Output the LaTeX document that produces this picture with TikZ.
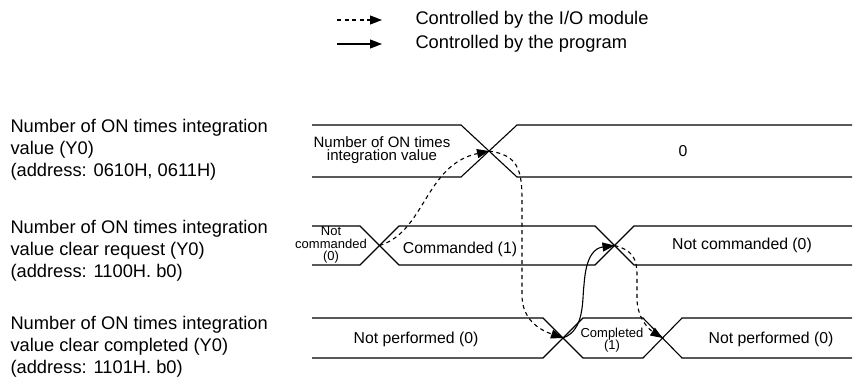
\documentclass[tikz,border=0pt]{standalone}
\usepackage{fontspec}
\setmainfont{Liberation Sans}
\usetikzlibrary{arrows.meta}

\begin{document}
\begin{tikzpicture}[x=1pt, y=-1pt,
  sig/.style={line width=1.1pt},
  ctl/.style={line width=1.1pt, -{Triangle[length=12pt,width=9pt]}},
  io/.style={ctl, dash pattern=on 4pt off 3.5pt},
  lbl/.style={anchor=west, align=left, font=\fontsize{18.3}{22}\selectfont},
  val/.style={font=\fontsize{15.8}{18}\selectfont},
  small/.style={align=center, inner sep=1pt, font=\fontsize{13}{12.5}\selectfont}]

  \useasboundingbox (0,0) rectangle (855,378);

  % legend
  \coordinate (ioA) at (337,20);  \coordinate (ioB) at (382,20);
  \coordinate (prA) at (337,44);  \coordinate (prB) at (382,44);
  \draw[io] (ioA) -- (ioB);
  \draw[ctl] (prA) -- (prB);
  \node[lbl] (ioText) at (412,20) {Controlled by the I/O module};
  \node[lbl] (prText) at (412,44) {Controlled by the program};

  % signal names
  \node[lbl] (nameA) at (7,150) {Number of ON times integration\\value (Y0)\\(address: 0610H, 0611H)};
  \node[lbl] (nameB) at (7,251) {Number of ON times integration\\value clear request (Y0)\\(address: 1100H. b0)};
  \node[lbl] (nameC) at (7,347) {Number of ON times integration\\value clear completed (Y0)\\(address: 1101H. b0)};

  % row 1: integration value
  \draw[sig] (312,125) -- (461,125) -- (517,177) -- (852,177);
  \draw[sig] (312,177) -- (461,177) -- (517,125) -- (852,125);
  \coordinate (xA) at (489,151);
  \node[small, font=\fontsize{15}{13.5}\selectfont] (valOld) at (382,150) {Number of ON times\\integration value};
  \node[val] (valNew) at (683,151) {0};

  % row 2: clear request
  \draw[sig] (312,226) -- (360,226) -- (399,265) -- (595,265) -- (634,226) -- (852,226);
  \draw[sig] (312,265) -- (360,265) -- (399,226) -- (595,226) -- (634,265) -- (852,265);
  \coordinate (xB1) at (379.5,245.5);
  \coordinate (xB2) at (614.5,245.5);
  \node[small] (reqOff) at (331,245) {Not\\commanded\\(0)};
  \node[val] (reqOn) at (460,249) {Commanded (1)};
  \node[val] (reqOff2) at (742,245) {Not commanded (0)};

  % row 3: clear completed
  \draw[sig] (312,318) -- (543,318) -- (583,358) -- (643,358) -- (682,318) -- (852,318);
  \draw[sig] (312,358) -- (543,358) -- (583,318) -- (643,318) -- (682,358) -- (852,358);
  \coordinate (xC1) at (563,338);
  \coordinate (xC2) at (662.5,338);
  \node[val] (doneOff) at (416,339) {Not performed (0)};
  \node[small] (doneOn) at (612,340) {Completed\\(1)};
  \node[val] (doneOff2) at (771,339) {Not performed (0)};

  % control flow
  \draw[io] (xB1) .. controls (425,232) and (425,165) .. (xA);
  \draw[io] (xA) .. controls (518,155) and (522,170) .. (522,200) -- (522,295)
    .. controls (522,320) and (540,330) .. (xC1);
  \draw[ctl] (xC1) .. controls (585,330) and (582,300) .. (584,285)
    .. controls (586,255) and (595,248) .. (xB2);
  \draw[io] (xB2) .. controls (632,250) and (637,258) .. (637,275) -- (637,300)
    .. controls (638,320) and (650,330) .. (xC2);
\end{tikzpicture}
\end{document}
